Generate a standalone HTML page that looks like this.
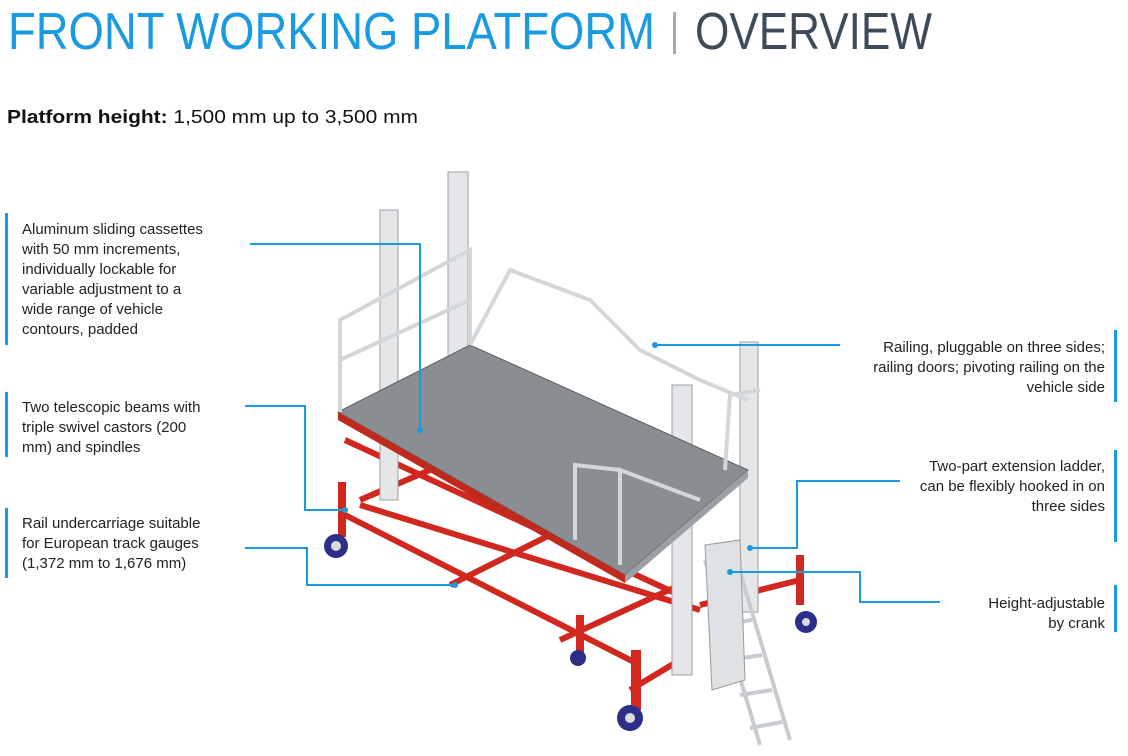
<!DOCTYPE html>
<html><head><meta charset="utf-8"><style>
body{margin:0;background:#fff;}
svg{display:block;font-family:"Liberation Sans",sans-serif;}
</style></head><body>
<svg width="1128" height="756" viewBox="0 0 1128 756">
<text x="8" y="49" font-size="52" fill="#1a9ae0" textLength="647" lengthAdjust="spacingAndGlyphs">FRONT WORKING PLATFORM</text>
<rect x="673" y="12" width="3" height="42" fill="#aaa"/>
<text x="695" y="49" font-size="52" fill="#3d4a5a" textLength="237" lengthAdjust="spacingAndGlyphs">OVERVIEW</text>
<text x="7" y="123" font-size="18" fill="#111" textLength="411" lengthAdjust="spacingAndGlyphs"><tspan font-weight="bold">Platform height:</tspan> 1,500 mm up to 3,500 mm</text>

<g>
 <g stroke="#d0281e" stroke-width="6" fill="none">
  <path d="M345 515 L640 665"/><path d="M360 505 L700 610"/>
  <path d="M450 585 L600 510"/><path d="M560 640 L680 585"/>
  <path d="M630 690 L680 660"/><path d="M360 500 L430 470"/>
  <path d="M700 605 L800 580"/><path d="M345 440 L690 600"/>
 </g>
 <g fill="#d0281e">
  <rect x="338" y="482" width="8" height="55"/><rect x="631" y="650" width="10" height="60"/>
  <rect x="796" y="555" width="8" height="50"/><rect x="576" y="615" width="8" height="40"/>
 </g>
 <g fill="#2b2f8a"><circle cx="336" cy="546" r="12"/><circle cx="630" cy="718" r="13"/><circle cx="806" cy="622" r="11"/><circle cx="578" cy="658" r="8"/></g>
 <g fill="#d8dadc"><circle cx="336" cy="546" r="5"/><circle cx="630" cy="718" r="5"/><circle cx="806" cy="622" r="4"/></g>
 <g fill="#e4e6e8" stroke="#9aa0a6" stroke-width="1">
  <rect x="380" y="210" width="18" height="290"/><rect x="448" y="172" width="20" height="270"/>
  <rect x="672" y="385" width="20" height="290"/><rect x="740" y="342" width="18" height="270"/>
 </g>
 <polygon points="338,412 470,345 748,470 625,575" fill="#8a8e92" stroke="#5a5f64"/>
 <polygon points="338,412 625,575 625,583 338,420" fill="#c02a1e"/>
 <polygon points="625,575 748,470 748,478 625,583" fill="#9aa0a6"/>
 <g stroke="#d4d7da" stroke-width="4" fill="none">
  <path d="M340 412 L340 320 L470 250 L470 345"/><path d="M340 360 L470 300"/>
  <path d="M470 345 L510 270 L590 300 L640 350 L700 380 L748 400"/>
  <path d="M620 565 L620 470 L700 500"/><path d="M575 540 L575 465 L620 470"/>
  <path d="M725 470 L730 395 L760 390"/>
 </g>
 <g stroke="#c8ccd0" stroke-width="4"><path d="M705 560 L760 745"/><path d="M735 555 L790 740"/>
 <path d="M710 590 L742 585 M720 625 L752 620 M730 660 L762 655 M740 695 L772 690 M750 728 L782 722"/></g>
 <polygon points="705,545 740,540 745,680 712,690" fill="#dfe2e4" stroke="#999"/>
</g>

<g fill="#1a9ae0">
 <rect x="5" y="213" width="3" height="132"/><rect x="5" y="392" width="3" height="65"/><rect x="5" y="508" width="3" height="70"/>
 <rect x="1114" y="330" width="3" height="72"/><rect x="1114" y="450" width="3" height="92"/><rect x="1114" y="585" width="3" height="47"/>
 <circle cx="420" cy="430" r="3"/><circle cx="345" cy="510" r="3"/><circle cx="455" cy="585" r="3"/>
 <circle cx="655" cy="345" r="3"/><circle cx="750" cy="548" r="3"/><circle cx="730" cy="572" r="3"/>
</g>
<g stroke="#1a9ae0" stroke-width="2" fill="none">
 <path d="M250 244 H420 V430"/><path d="M245 406 H305 V510 H345"/><path d="M245 548 H307 V585 H455"/>
 <path d="M840 345 H655"/><path d="M900 481 H797 V548 H750"/><path d="M940 602 H860 V572 H730"/>
</g>
<g font-size="15" fill="#222">
 <text x="22" y="234">Aluminum sliding cassettes</text>
 <text x="22" y="254">with 50 mm increments,</text>
 <text x="22" y="274">individually lockable for</text>
 <text x="22" y="294">variable adjustment to a</text>
 <text x="22" y="314">wide range of vehicle</text>
 <text x="22" y="334">contours, padded</text>
 <text x="22" y="412">Two telescopic beams with</text>
 <text x="22" y="432">triple swivel castors (200</text>
 <text x="22" y="452">mm) and spindles</text>
 <text x="22" y="528">Rail undercarriage suitable</text>
 <text x="22" y="548">for European track gauges</text>
 <text x="22" y="568">(1,372 mm to 1,676 mm)</text>
</g>
<g font-size="15" fill="#222" text-anchor="end">
 <text x="1105" y="352">Railing, pluggable on three sides;</text>
 <text x="1105" y="372">railing doors; pivoting railing on the</text>
 <text x="1105" y="392">vehicle side</text>
 <text x="1105" y="471">Two-part extension ladder,</text>
 <text x="1105" y="491">can be flexibly hooked in on</text>
 <text x="1105" y="511">three sides</text>
 <text x="1105" y="608">Height-adjustable</text>
 <text x="1105" y="628">by crank</text>
</g>
</svg>
</body></html>
